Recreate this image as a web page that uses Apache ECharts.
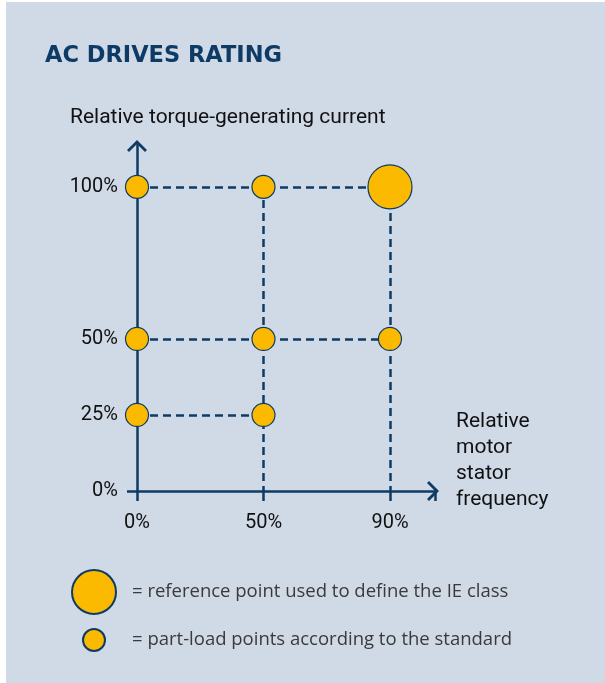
<!DOCTYPE html>
<html>
<head>
<meta charset="utf-8">
<script src="https://cdn.jsdelivr.net/npm/echarts@6/dist/echarts.min.js"></script>
<style>
  html, body { margin: 0; padding: 0; background: #ffffff; }
  #chart { position: absolute; left: 6px; top: 2px; width: 599px; height: 681px; }
</style>
</head>
<body>
<div id="chart"></div>
<script>
// ---- data ----
const xLabels = ['0%', '50%', '90%'];          // relative motor stator frequency (category positions 0,1,2)
const yTickValues = [0, 25, 50, 100];          // relative torque-generating current (%)
const partLoadPoints = [[0, 100], [1, 100], [0, 50], [1, 50], [2, 50], [0, 25], [1, 25]];
const referencePoints = [[2, 100]];
const titleText = 'AC DRIVES RATING';
const yAxisName = 'Relative torque-generating current';
const xAxisName = 'Relative\nmotor\nstator\nfrequency';
const legendReference = '= reference point used to define the IE class';
const legendPartLoad = '= part-load points according to the standard';

// ---- styles ----
const NAVY = '#0e3b65';
const YELLOW = '#fbba00';
const BG = '#d0d9e6';
const NARROW = 'Roboto, sans-serif';
const chevron = 'path://M0,10 L10,0 L20,10 L18,12 L10,4 L2,12 Z';

// dashed guide segments derived from the points
const allPts = partLoadPoints.concat(referencePoints);
const maxXAtY = {}, maxYAtX = {};
allPts.forEach(([x, y]) => {
  maxXAtY[y] = Math.max(maxXAtY[y] ?? 0, x);
  maxYAtX[x] = Math.max(maxYAtX[x] ?? 0, y);
});
const segments = [];
Object.keys(maxXAtY).forEach(y => { if (maxXAtY[y] > 0 && +y > 0) segments.push({ coords: [[0, +y], [maxXAtY[y], +y]] }); });
Object.keys(maxYAtX).forEach(x => { if (+x > 0 && maxYAtX[x] > 0) segments.push({ coords: [[+x, maxYAtX[x]], [+x, 0]] }); });

const chart = echarts.init(document.getElementById('chart'), null, { renderer: 'canvas' });
chart.setOption({
  backgroundColor: BG,
  animation: false,
  title: [
    { text: titleText, left: 39, top: 43, padding: 0,
      textStyle: { fontFamily: '"DejaVu Sans", sans-serif', fontWeight: 'bold', fontSize: 22.5, color: NAVY } },
    { text: yAxisName, left: 64, top: 105, padding: 0,
      textStyle: { fontFamily: NARROW, fontWeight: 'normal', fontSize: 21, color: '#111111' } },
    { text: xAxisName, left: 450, top: 407, padding: 0,
      textStyle: { fontFamily: NARROW, fontWeight: 'normal', fontSize: 21, lineHeight: 26, color: '#111111' } }
  ],
  legend: [
    { data: [legendReference], left: 65, top: 567, itemWidth: 44, itemHeight: 44, icon: 'circle', padding: 0,
      selectedMode: false,
      textStyle: { fontFamily: '"Open Sans", sans-serif', fontSize: 18.5, color: '#3a3a3a', padding: [0, 0, 0, 11] } },
    { data: [legendPartLoad], left: 76, top: 626, itemWidth: 22, itemHeight: 22, icon: 'circle', padding: 0,
      selectedMode: false,
      textStyle: { fontFamily: '"Open Sans", sans-serif', fontSize: 18.5, color: '#3a3a3a', padding: [0, 0, 0, 22] } }
  ],
  grid: { left: 131, top: 142, width: 298, height: 347, containLabel: false },
  xAxis: {
    type: 'value', min: 0, max: 2.356, interval: 1,
    axisLine: { show: true, lineStyle: { color: NAVY, width: 2.5 }, symbol: ['none', chevron], symbolSize: [20, 12], symbolOffset: [0, -2] },
    axisTick: { show: true, length: 10, lineStyle: { color: NAVY, width: 2.5 } },
    axisLabel: { formatter: v => xLabels[v] ?? '', margin: 22, fontFamily: NARROW, fontSize: 20, color: '#111111' },
    splitLine: { show: false }
  },
  yAxis: {
    type: 'value', min: 0, max: 114.1, interval: 25,
    axisLine: { show: true, lineStyle: { color: NAVY, width: 2.5 }, symbol: ['none', chevron], symbolSize: [20, 12], symbolOffset: [0, -2] },
    axisTick: { show: true, length: 10, customValues: yTickValues, lineStyle: { color: NAVY, width: 2.5 } },
    axisLabel: { customValues: yTickValues, formatter: v => v + '%', margin: 19, fontFamily: NARROW, fontSize: 20, color: '#111111' },
    splitLine: { show: false }
  },
  series: [
    { type: 'lines', coordinateSystem: 'cartesian2d', data: segments, silent: true, z: 1,
      lineStyle: { color: NAVY, width: 2.5, type: [8, 5], opacity: 1 } },
    { name: legendPartLoad, type: 'scatter', data: partLoadPoints, symbol: 'circle', symbolSize: 23, z: 3,
      itemStyle: { color: YELLOW, borderColor: NAVY, borderWidth: 1.2, opacity: 1 } },
    { name: legendReference, type: 'scatter', data: referencePoints, symbol: 'circle', symbolSize: 44, z: 3,
      itemStyle: { color: YELLOW, borderColor: NAVY, borderWidth: 1.2, opacity: 1 } }
  ]
});
</script>
</body>
</html>
